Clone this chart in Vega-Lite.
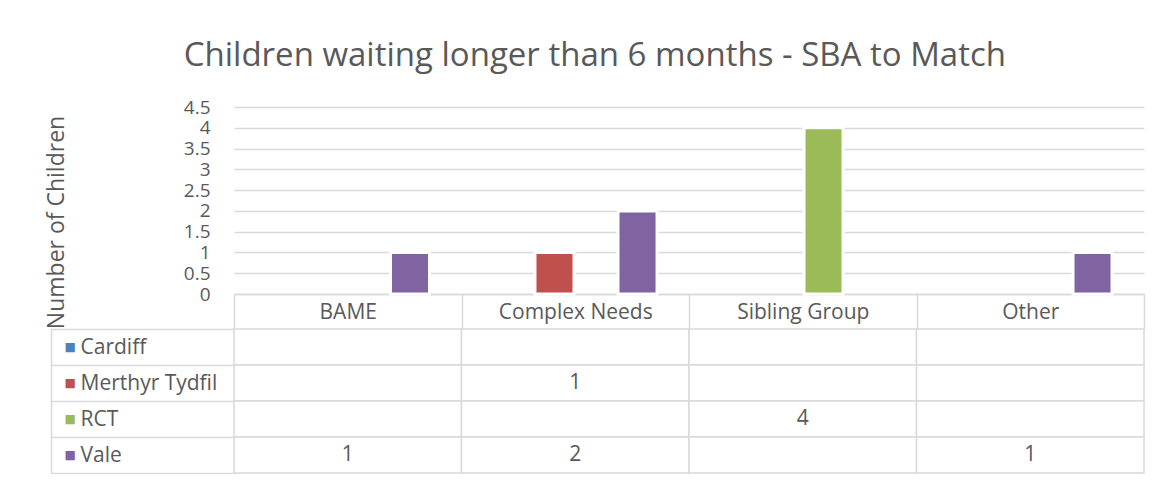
{
  "$schema": "https://vega.github.io/schema/vega-lite/v6.json",
  "padding": {"left": 45, "top": 40, "right": 20, "bottom": 0},
  "background": "white",
  "title": {
    "text": "Children waiting longer than 6 months - SBA to Match",
    "font": "Open Sans",
    "fontSize": 33,
    "fontWeight": "normal",
    "color": "#595959",
    "anchor": "middle",
    "offset": 25
  },
  "data": {
    "values": [
      {"Category": "BAME", "Series": "Cardiff", "value": null},
      {"Category": "BAME", "Series": "Merthyr Tydfil", "value": null},
      {"Category": "BAME", "Series": "RCT", "value": null},
      {"Category": "BAME", "Series": "Vale", "value": 1},
      {"Category": "Complex Needs", "Series": "Cardiff", "value": null},
      {"Category": "Complex Needs", "Series": "Merthyr Tydfil", "value": 1},
      {"Category": "Complex Needs", "Series": "RCT", "value": null},
      {"Category": "Complex Needs", "Series": "Vale", "value": 2},
      {"Category": "Sibling Group", "Series": "Cardiff", "value": null},
      {"Category": "Sibling Group", "Series": "Merthyr Tydfil", "value": null},
      {"Category": "Sibling Group", "Series": "RCT", "value": 4},
      {"Category": "Sibling Group", "Series": "Vale", "value": null},
      {"Category": "Other", "Series": "Cardiff", "value": null},
      {"Category": "Other", "Series": "Merthyr Tydfil", "value": null},
      {"Category": "Other", "Series": "RCT", "value": null},
      {"Category": "Other", "Series": "Vale", "value": 1}
    ]
  },
  "bounds": "flush",
  "spacing": 35,
  "vconcat": [
    {
      "width": 910,
      "height": 187,
      "mark": {"type": "bar", "stroke": "white", "strokeWidth": 3},
      "encoding": {
        "x": {
          "field": "Category",
          "type": "nominal",
          "sort": ["BAME", "Complex Needs", "Sibling Group", "Other"],
          "scale": {"paddingInner": 0, "paddingOuter": 0},
          "axis": {
            "title": null,
            "labelAngle": 0,
            "domain": true,
            "domainColor": "#d9d9d9",
            "domainWidth": 1.5,
            "ticks": true,
            "tickBand": "extent",
            "tickSize": 35,
            "tickColor": "#d9d9d9",
            "tickWidth": 1.5,
            "labelPadding": -17,
            "labelBaseline": "middle",
            "labelFont": "Open Sans",
            "labelFontSize": 21,
            "labelColor": "#595959"
          }
        },
        "xOffset": {
          "field": "Series",
          "type": "nominal",
          "sort": ["Cardiff", "Merthyr Tydfil", "RCT", "Vale"],
          "scale": {"paddingInner": 0.06, "paddingOuter": 0.77}
        },
        "y": {
          "field": "value",
          "type": "quantitative",
          "scale": {"domain": [0, 4.5], "nice": false},
          "axis": {
            "values": [0, 0.5, 1, 1.5, 2, 2.5, 3, 3.5, 4, 4.5],
            "format": "~g",
            "grid": true,
            "gridColor": "#d9d9d9",
            "gridWidth": 1.5,
            "domain": false,
            "ticks": false,
            "labelPadding": 24,
            "labelOverlap": false,
            "labelFont": "Open Sans",
            "labelFontSize": 19,
            "labelColor": "#595959",
            "title": "Number of Children",
            "titleFont": "Open Sans",
            "titleFontSize": 23,
            "titleFontWeight": "normal",
            "titleColor": "#595959",
            "titleX": -166,
            "titleY": 115,
            "titleBaseline": "bottom"
          }
        },
        "color": {
          "field": "Series",
          "type": "nominal",
          "scale": {
            "domain": ["Cardiff", "Merthyr Tydfil", "RCT", "Vale"],
            "range": ["#4F81BD", "#C0504D", "#9BBB59", "#8064A2"]
          },
          "legend": null
        }
      }
    },
    {
      "width": 910,
      "height": 144,
      "layer": [
        {
          "mark": {"type": "rect", "fill": "white", "stroke": "#d9d9d9", "strokeWidth": 1.5},
          "encoding": {
            "x": {
              "field": "Category",
              "type": "nominal",
              "sort": ["BAME", "Complex Needs", "Sibling Group", "Other"],
              "scale": {"paddingInner": 0, "paddingOuter": 0},
              "axis": null
            },
            "y": {
              "field": "Series",
              "type": "nominal",
              "sort": ["Cardiff", "Merthyr Tydfil", "RCT", "Vale"],
              "scale": {"paddingInner": 0, "paddingOuter": 0},
              "axis": {
                "title": null,
                "domain": false,
                "ticks": true,
                "tickBand": "extent",
                "tickSize": 183,
                "tickColor": "#d9d9d9",
                "tickWidth": 1.5,
                "labelAlign": "left",
                "labelBaseline": "middle",
                "labelPadding": -29,
                "labelFont": "Open Sans",
                "labelFontSize": 21,
                "labelColor": "#595959"
              }
            }
          }
        },
        {
          "transform": [{"filter": "datum.value != null"}],
          "mark": {"type": "text", "font": "Open Sans", "fontSize": 21, "color": "#595959"},
          "encoding": {
            "x": {
              "field": "Category",
              "type": "nominal",
              "sort": ["BAME", "Complex Needs", "Sibling Group", "Other"],
              "axis": null
            },
            "y": {
              "field": "Series",
              "type": "nominal",
              "sort": ["Cardiff", "Merthyr Tydfil", "RCT", "Vale"],
              "axis": {
                "orient": "left",
                "title": null,
                "offset": 183,
                "domain": true,
                "domainColor": "#d9d9d9",
                "domainWidth": 1.5,
                "ticks": false,
                "labelExpr": "'■'",
                "labelAlign": "left",
                "labelBaseline": "middle",
                "labelPadding": -13,
                "labelFont": "DejaVu Sans",
                "labelFontSize": 12,
                "labelColor": {
                  "condition": [
                    {"test": "datum.value === 'Cardiff'", "value": "#4F81BD"},
                    {"test": "datum.value === 'Merthyr Tydfil'", "value": "#C0504D"},
                    {"test": "datum.value === 'RCT'", "value": "#9BBB59"}
                  ],
                  "value": "#8064A2"
                }
              }
            },
            "text": {"field": "value", "type": "quantitative"}
          }
        }
      ],
      "resolve": {"axis": {"y": "independent"}}
    }
  ],
  "config": {
    "font": "Open Sans",
    "view": {"stroke": null}
  }
}
